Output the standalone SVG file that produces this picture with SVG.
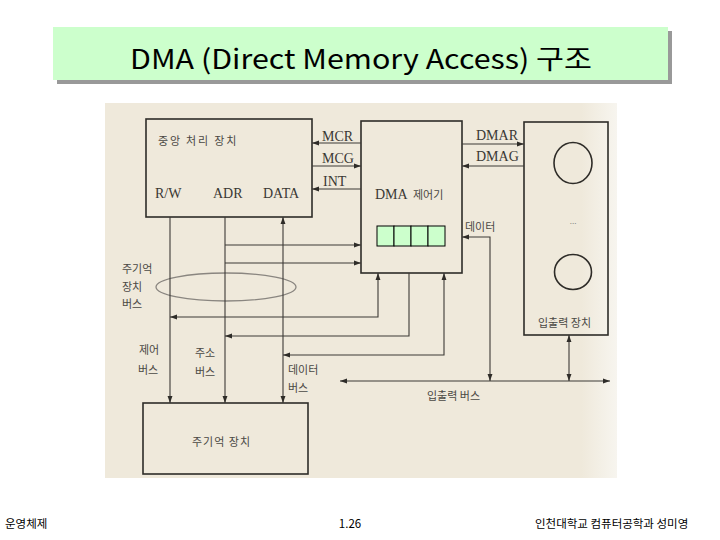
<svg xmlns="http://www.w3.org/2000/svg" width="720" height="540" viewBox="0 0 720 540">
<defs>
<style>
.ln{stroke:#3c3a36;stroke-width:1.1;fill:none}
.bx{stroke:#2e2c28;stroke-width:1.6;fill:none}
.lat{font-family:"Liberation Serif",serif;font-size:14px;fill:#3a3834}
.kor{font-family:"Noto Sans CJK KR",sans-serif;font-size:11px;fill:#4a4844}
.foot{font-family:"Noto Sans CJK KR",sans-serif;font-size:11.5px;fill:#000}
</style>
<marker id="ah" viewBox="0 0 10 10" refX="10" refY="5" markerWidth="7" markerHeight="7" markerUnits="userSpaceOnUse" orient="auto-start-reverse">
<path d="M0,1.5 L10,5 L0,8.5 Z" fill="#2e2c28"/>
</marker>
<linearGradient id="fade" x1="0" y1="0" x2="1" y2="0">
<stop offset="0" stop-color="#efe9db"/>
<stop offset="0.93" stop-color="#efe9db"/>
<stop offset="1" stop-color="#f7f5ef"/>
</linearGradient>
</defs>
<rect width="720" height="540" fill="#fff"/>
<g id="title">
<rect x="57" y="31" width="615" height="53" fill="#999"/>
<rect x="53" y="27" width="615" height="53" fill="#ccffcc"/>
<text x="130" y="69" textLength="462" lengthAdjust="spacingAndGlyphs" font-family="'Noto Sans CJK KR','Open Sans',sans-serif" font-weight="400" font-size="27" fill="#000">DMA (Direct Memory Access) 구조</text>
</g>
<rect id="scan" x="105" y="103" width="512" height="375" fill="url(#fade)"/>
<g id="cpu">
<rect class="bx" x="146" y="119" width="166" height="98"/>
<text class="kor" x="158" y="145" font-size="11.5" letter-spacing="1.8">중앙 처리 장치</text>
<text class="lat" x="155" y="198">R/W</text>
<text class="lat" x="213" y="198">ADR</text>
<text class="lat" x="263" y="198">DATA</text>
</g>
<g id="dma">
<rect class="bx" x="361" y="121" width="101" height="152"/>
<text class="lat" x="375" y="199">DMA</text>
<text class="kor" x="413" y="199">제어기</text>
<g fill="#ccffcc" stroke="#000" stroke-width="1">
<rect x="377" y="226" width="17" height="20"/>
<rect x="394" y="226" width="17" height="20"/>
<rect x="411" y="226" width="17" height="20"/>
<rect x="428" y="226" width="17" height="20"/>
</g>
</g>
<g id="io">
<rect class="bx" x="524" y="122" width="84" height="213"/>
<ellipse cx="573" cy="163" rx="19" ry="20.5" class="bx" stroke-width="1.3"/>
<text x="573" y="224" text-anchor="middle" font-family="'Liberation Serif',serif" font-size="9" fill="#666">...</text>
<ellipse cx="573" cy="272" rx="18.5" ry="17.5" class="bx" stroke-width="1.3"/>
<text class="kor" x="538" y="327" font-size="10.5">입출력 장치</text>
</g>
<g id="mem">
<rect class="bx" x="143" y="403" width="165" height="71"/>
<text class="kor" x="192" y="446" font-size="11.5" letter-spacing="1">주기억 장치</text>
</g>
<g id="bus-ellipse">
<ellipse cx="226" cy="287" rx="70" ry="14" fill="none" stroke="#8a8680" stroke-width="1.3"/>
</g>
<g id="connectors">
<line class="ln" x1="361" y1="143" x2="312" y2="143" marker-end="url(#ah)"/>
<line class="ln" x1="312" y1="166" x2="361" y2="166" marker-end="url(#ah)"/>
<line class="ln" x1="361" y1="189" x2="312" y2="189" marker-end="url(#ah)"/>
<line class="ln" x1="462" y1="144" x2="524" y2="144" marker-end="url(#ah)"/>
<line class="ln" x1="524" y1="166" x2="462" y2="166" marker-end="url(#ah)"/>
<line class="ln" x1="225" y1="245" x2="361" y2="245" marker-end="url(#ah)"/>
<line class="ln" x1="225" y1="263" x2="361" y2="263" marker-end="url(#ah)"/>
<line class="ln" x1="170" y1="217" x2="170" y2="403" marker-end="url(#ah)"/>
<line class="ln" x1="225" y1="217" x2="225" y2="403" marker-end="url(#ah)"/>
<line class="ln" x1="283" y1="217" x2="283" y2="403" marker-start="url(#ah)" marker-end="url(#ah)"/>
<path class="ln" d="M378,273 V317 H170" marker-start="url(#ah)" marker-end="url(#ah)"/>
<path class="ln" d="M409,273 V336 H225" marker-end="url(#ah)"/>
<path class="ln" d="M444,273 V355 H283" marker-start="url(#ah)" marker-end="url(#ah)"/>
<path class="ln" d="M462,237 H490 V381" marker-start="url(#ah)" marker-end="url(#ah)"/>
<line class="ln" x1="340" y1="381" x2="610" y2="381" marker-start="url(#ah)" marker-end="url(#ah)"/>
<line class="ln" x1="569" y1="335" x2="569" y2="381" marker-start="url(#ah)" marker-end="url(#ah)"/>
</g>
<g id="labels">
<text class="lat" x="322" y="141">MCR</text>
<text class="lat" x="322" y="163">MCG</text>
<text class="lat" x="323" y="186">INT</text>
<text class="lat" x="476" y="140">DMAR</text>
<text class="lat" x="476" y="161">DMAG</text>
<text class="kor" x="465" y="231">데이터</text>
<text class="kor" x="122" y="273">주기억</text>
<text class="kor" x="122" y="291">장치</text>
<text class="kor" x="122" y="308">버스</text>
<text class="kor" x="139" y="354">제어</text>
<text class="kor" x="138" y="374">버스</text>
<text class="kor" x="195" y="357">주소</text>
<text class="kor" x="195" y="376">버스</text>
<text class="kor" x="288" y="374">데이터</text>
<text class="kor" x="288" y="392">버스</text>
<text class="kor" x="427" y="400">입출력 버스</text>
</g>
<g id="footer">
<text class="foot" x="5" y="528">운영체제</text>
<text class="foot" x="350" y="528" text-anchor="middle">1.26</text>
<text class="foot" x="535" y="528">인천대학교 컴퓨터공학과 성미영</text>
</g>
</svg>
